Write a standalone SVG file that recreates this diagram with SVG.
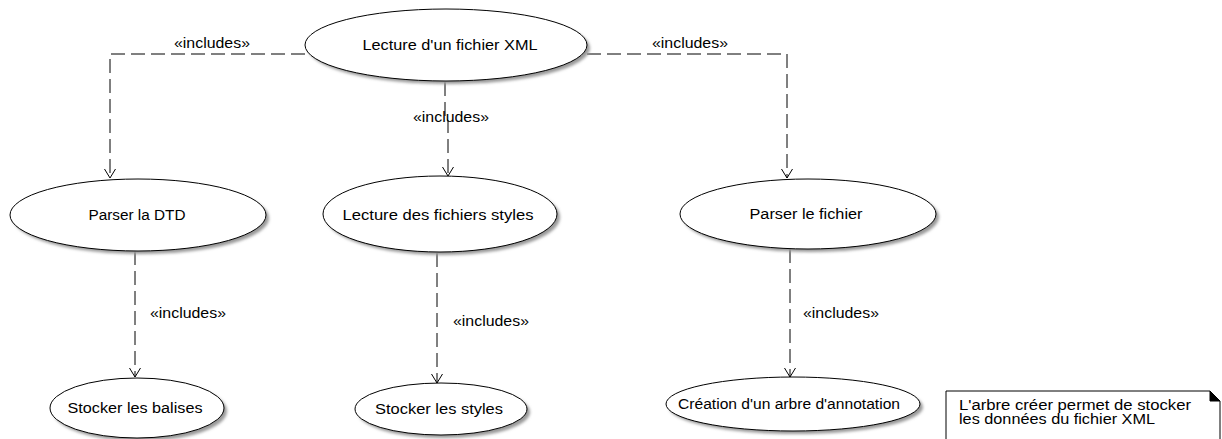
<svg xmlns="http://www.w3.org/2000/svg" width="1222" height="439" viewBox="0 0 1222 439">
<defs>
<style>
.uc{fill:#fff;stroke:#000;stroke-width:1}
.sh{fill:#999;filter:url(#blur)}
.t{font-family:"Liberation Sans",Arial,sans-serif;font-size:14px;fill:#000;text-anchor:middle}
.lbl{font-family:"Liberation Sans",Arial,sans-serif;font-size:14px;fill:#000;text-anchor:middle}
.nt{font-family:"Liberation Sans",Arial,sans-serif;font-size:14px;fill:#000}
.c{fill:none;stroke:#000;stroke-width:1;stroke-dasharray:14,6}
</style>
<filter id="blur" x="-10%" y="-10%" width="130%" height="130%"><feGaussianBlur stdDeviation="1.5"/></filter>
<marker id="arr" markerWidth="14" markerHeight="14" refX="11" refY="7" orient="auto" markerUnits="userSpaceOnUse" viewBox="0 0 14 14">
<path d="M2,1.5 L11,7 L2,12.5" fill="none" stroke="#000" stroke-width="1"/>
</marker>
</defs>
<rect width="1222" height="439" fill="#fff"/>
<g id="connectors">
<path class="c" d="M305,54 H110 V178" marker-end="url(#arr)"/>
<path class="c" d="M587,54 H787 V178" marker-end="url(#arr)"/>
<path class="c" d="M445,82 V120 H448 V176" marker-end="url(#arr)"/>
<path class="c" d="M135,251 V377" marker-end="url(#arr)"/>
<path class="c" d="M437,253 V383" marker-end="url(#arr)"/>
<path class="c" d="M790,249 V377" marker-end="url(#arr)"/>
<text class="lbl" x="212" y="48" textLength="76" lengthAdjust="spacingAndGlyphs">«includes»</text>
<text class="lbl" x="690" y="48" textLength="76" lengthAdjust="spacingAndGlyphs">«includes»</text>
<text class="lbl" x="451" y="122" textLength="76" lengthAdjust="spacingAndGlyphs">«includes»</text>
<text class="lbl" x="188" y="318" textLength="76" lengthAdjust="spacingAndGlyphs">«includes»</text>
<text class="lbl" x="491" y="326" textLength="76" lengthAdjust="spacingAndGlyphs">«includes»</text>
<text class="lbl" x="841" y="318" textLength="76" lengthAdjust="spacingAndGlyphs">«includes»</text>
</g>
<g id="n1"><ellipse class="sh" cx="449" cy="48" rx="141" ry="36"/><ellipse class="uc" cx="446" cy="45" rx="141" ry="36"/><text class="t" x="450" y="50" textLength="175" lengthAdjust="spacingAndGlyphs">Lecture d'un fichier XML</text></g>
<g id="n2"><ellipse class="sh" cx="141" cy="218" rx="128" ry="36"/><ellipse class="uc" cx="138" cy="215" rx="128" ry="36"/><text class="t" x="137" y="220" textLength="97" lengthAdjust="spacingAndGlyphs">Parser la DTD</text></g>
<g id="n3"><ellipse class="sh" cx="443" cy="217" rx="117" ry="38"/><ellipse class="uc" cx="440" cy="214" rx="117" ry="38"/><text class="t" x="438" y="220" textLength="191" lengthAdjust="spacingAndGlyphs">Lecture des fichiers styles</text></g>
<g id="n4"><ellipse class="sh" cx="811" cy="217" rx="128" ry="35"/><ellipse class="uc" cx="808" cy="214" rx="128" ry="35"/><text class="t" x="806" y="219" textLength="113" lengthAdjust="spacingAndGlyphs">Parser le fichier</text></g>
<g id="n5"><ellipse class="sh" cx="140" cy="411" rx="87" ry="30"/><ellipse class="uc" cx="137" cy="408" rx="87" ry="30"/><text class="t" x="135" y="413" textLength="135" lengthAdjust="spacingAndGlyphs">Stocker les balises</text></g>
<g id="n6"><ellipse class="sh" cx="444" cy="412" rx="86" ry="26"/><ellipse class="uc" cx="441" cy="409" rx="86" ry="26"/><text class="t" x="439" y="414" textLength="128" lengthAdjust="spacingAndGlyphs">Stocker les styles</text></g>
<g id="n7"><ellipse class="sh" cx="796" cy="407" rx="127" ry="27"/><ellipse class="uc" cx="793" cy="404" rx="127" ry="27"/><text class="t" x="789" y="409" textLength="222" lengthAdjust="spacingAndGlyphs">Création d'un arbre d'annotation</text></g>
<g id="note">
<path d="M946,391 H1210 L1220,401 V445 H946 Z" fill="#fff" stroke="#000" stroke-width="1"/>
<path d="M1210,391 L1220,401 H1210 Z" fill="#000" stroke="#000" stroke-width="1"/>
<text class="nt" x="959" y="410" textLength="232" lengthAdjust="spacingAndGlyphs">L'arbre créer permet de stocker</text>
<text class="nt" x="959" y="424" textLength="196" lengthAdjust="spacingAndGlyphs">les données du fichier XML</text>
</g>
</svg>
